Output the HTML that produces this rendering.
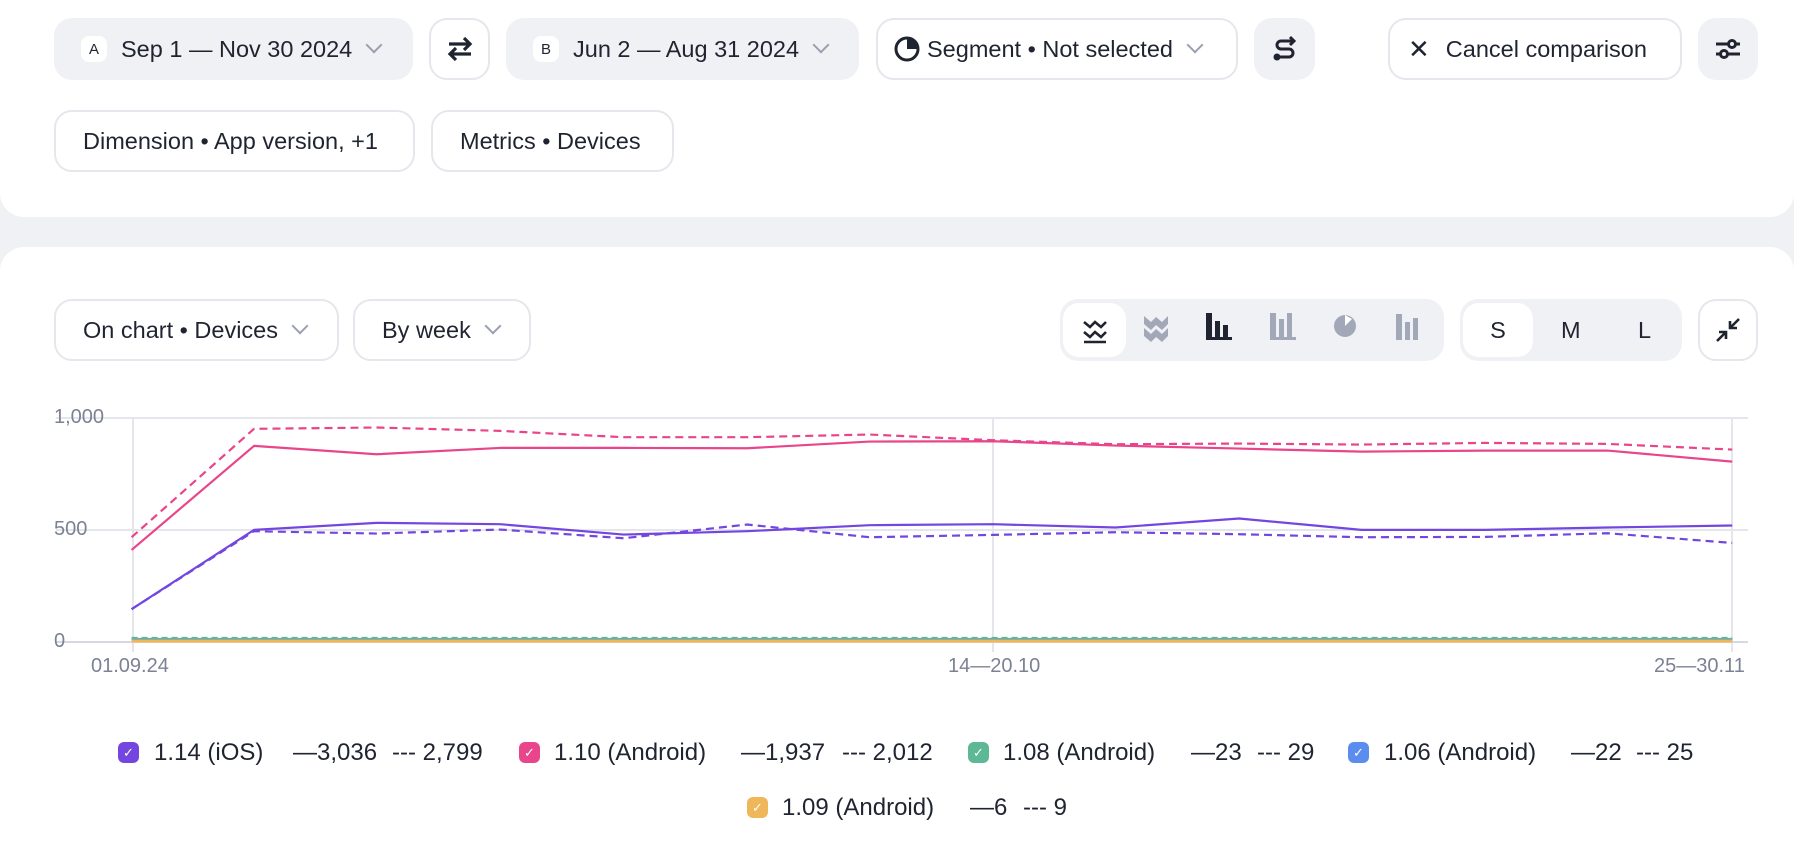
<!DOCTYPE html>
<html><head><meta charset="utf-8"><style>
*{box-sizing:border-box;margin:0;padding:0}
body{width:1794px;height:842px;background:#f0f1f5;font-family:"Liberation Sans",sans-serif;color:#1f2430;position:relative;overflow:hidden}
.panel{position:absolute;left:0;background:#fff}
.pill{position:absolute;height:62px;border-radius:18px;display:flex;align-items:center;font-size:23.5px;padding-left:27px;white-space:nowrap}
.g{background:#f0f1f5}
.w{background:#fff;border:2px solid #e6e7ec}
.chev{display:inline-block;width:12px;height:12px;border-right:2.5px solid #9aa0b0;border-bottom:2.5px solid #9aa0b0;transform:rotate(45deg);margin-left:16px;margin-top:-8px}
.badge{display:inline-flex;width:26px;height:26px;border-radius:8px;background:#fff;font-size:15px;align-items:center;justify-content:center;margin-right:14px}
.ic{justify-content:center;padding:0}
.lab{position:absolute;font-size:20px;color:#7c8294}
.t{position:absolute;font-size:24px;white-space:nowrap;line-height:1}
.cb{position:absolute;width:21px;height:21px;border-radius:6px;display:flex;align-items:center;justify-content:center;color:#fff;font-size:13px}
</style></head><body>
<div class="panel" style="top:0;width:1794px;height:217px;border-radius:0 0 24px 24px"></div>
<div class="panel" style="top:247px;width:1794px;height:595px;border-radius:24px 24px 0 0"></div>

<div class="pill g" style="left:54px;top:18px;width:359px"><span class="badge">A</span>Sep 1 — Nov 30 2024<span class="chev"></span></div>
<div class="pill w ic" style="left:429px;top:18px;width:61px"><svg width="28" height="26" viewBox="0 0 28 26" fill="none" stroke="#1f2430" stroke-width="3.2"><path d="M3 8H24M18 2L24 8L18 14"/><path d="M25 18H4M10 12L4 18L10 24"/></svg></div>
<div class="pill g" style="left:506px;top:18px;width:353px"><span class="badge">B</span>Jun 2 — Aug 31 2024<span class="chev"></span></div>
<div class="pill w" style="left:876px;top:18px;width:362px;padding-left:15px"><svg width="28" height="28" viewBox="0 0 28 28" style="margin-right:6px"><circle cx="14" cy="14" r="11" fill="none" stroke="#1f2430" stroke-width="3"/><path d="M14 3 A11 11 0 0 1 25 14 L14 14Z" fill="#1f2430"/></svg>Segment • Not selected<span class="chev"></span></div>
<div class="pill g ic" style="left:1254px;top:18px;width:61px"><svg width="24" height="28" viewBox="0 0 24 28" fill="none" stroke="#1f2430" stroke-width="3"><path d="M20 6H8a4 4 0 0 0 0 8h8a4 4 0 0 1 0 8H4"/><path d="M17 2l4 4-4 4" /><circle cx="4" cy="22" r="2" fill="#1f2430"/></svg></div>
<div class="pill w" style="left:1388px;top:18px;width:294px;padding-left:18px"><span style="font-size:26px;margin-right:16px">✕</span>Cancel comparison</div>
<div class="pill g ic" style="left:1698px;top:18px;width:60px"><svg width="28" height="26" viewBox="0 0 28 26" fill="none" stroke="#1f2430" stroke-width="3"><path d="M2 8H26M2 18H26"/><circle cx="18" cy="8" r="3.5" fill="#f0f1f5"/><circle cx="10" cy="18" r="3.5" fill="#f0f1f5"/></svg></div>

<div class="pill w" style="left:54px;top:110px;width:361px">Dimension • App version, +1</div>
<div class="pill w" style="left:431px;top:110px;width:243px">Metrics • Devices</div>

<div class="pill w" style="left:54px;top:299px;width:285px">On chart • Devices<span class="chev"></span></div>
<div class="pill w" style="left:353px;top:299px;width:178px">By week<span class="chev"></span></div>

<div class="pill g" style="left:1060px;top:299px;width:384px;padding:0"></div>
<div class="pill" style="left:1063px;top:303px;width:63px;height:54px;background:#fff;border-radius:16px;padding:0;justify-content:center"><svg width="26" height="28" viewBox="0 0 26 28" fill="none" stroke="#1f2430" stroke-width="2.6"><path d="M2 6l6 5 5-5 6 5 5-5M2 16l6 5 5-5 6 5 5-5M2 26H24"/></svg></div>
<svg style="position:absolute;left:1143px;top:314px" width="26" height="28" viewBox="0 0 26 28" fill="#a3a8b8"><path d="M1 2l7 6 5-5 6 5 6-6v8l-6 6-6-5-5 5-7-6z"/><path d="M1 14l7 6 5-5 6 5 6-6v8l-6 6-6-5-5 5-7-6z"/></svg>
<div style="position:absolute;left:1206px;top:312px;width:26px;height:28px;display:flex;align-items:flex-end;gap:3px;border-bottom:3px solid #1f2430"><i style="width:6px;height:24px;background:#1f2430"></i><i style="width:5px;height:16px;background:#1f2430"></i><i style="width:5px;height:12px;background:#1f2430"></i></div>
<div style="position:absolute;left:1270px;top:312px;width:26px;height:28px;display:flex;align-items:flex-end;gap:3px;border-bottom:3px solid #a3a8b8"><i style="width:6px;height:24px;background:#a3a8b8"></i><i style="width:5px;height:18px;background:#a3a8b8"></i><i style="width:5px;height:24px;background:#a3a8b8"></i></div>
<svg style="position:absolute;left:1332px;top:313px" width="26" height="26"><circle cx="13" cy="13" r="11" fill="#a3a8b8"/><path d="M13 2 L13 13 L20 6Z" fill="#fff"/></svg>
<div style="position:absolute;left:1396px;top:313px;width:26px;height:27px;display:flex;align-items:flex-end;gap:3px"><i style="width:6px;height:26px;background:#a3a8b8"></i><i style="width:5px;height:18px;background:#a3a8b8"></i><i style="width:5px;height:22px;background:#a3a8b8"></i></div>

<div class="pill g" style="left:1460px;top:299px;width:222px;padding:0"></div>
<div class="pill" style="left:1463px;top:303px;width:70px;height:54px;background:#fff;border-radius:16px;padding:0;justify-content:center">S</div>
<div style="position:absolute;left:1561px;top:317px;font-size:23.5px">M</div>
<div style="position:absolute;left:1638px;top:317px;font-size:23.5px">L</div>
<div class="pill w ic" style="left:1698px;top:299px;width:60px"><svg width="26" height="26" viewBox="0 0 26 26" fill="none" stroke="#1f2430" stroke-width="2.6"><path d="M24 2L15 11M15 4V11H22"/><path d="M2 24L11 15M4 15H11V22"/></svg></div>

<svg style="position:absolute;left:0;top:0" width="1794" height="842">
<g stroke="#e4e6ec" stroke-width="2">
<line x1="56" y1="418" x2="1748" y2="418"/>
<line x1="56" y1="530" x2="1748" y2="530"/>
<line x1="133" y1="418" x2="133" y2="652"/>
<line x1="993" y1="418" x2="993" y2="652"/>
<line x1="1732" y1="418" x2="1732" y2="652"/>
</g>
<line x1="56" y1="642" x2="1748" y2="642" stroke="#d6d9e2" stroke-width="2"/>
</svg>
<div class="lab" style="left:54px;top:406px">1,000</div>
<div class="lab" style="left:54px;top:518px">500</div>
<div class="lab" style="left:54px;top:630px">0</div>
<div class="lab" style="left:91px;top:655px">01.09.24</div>
<div class="lab" style="left:948px;top:655px">14—20.10</div>
<div class="lab" style="left:1654px;top:655px">25—30.11</div>

<svg style="position:absolute;left:0;top:380px" width="1794" height="462" viewBox="0 0 1568 1381" preserveAspectRatio="none" fill="none" stroke-linejoin="round">
<polyline vector-effect="non-scaling-stroke" stroke="#5cb895" stroke-width="2" points="115,774 1514,774"/>
<polyline vector-effect="non-scaling-stroke" stroke="#5cb895" stroke-width="2" stroke-dasharray="6 4" points="115,771 1514,771"/>
<polyline vector-effect="non-scaling-stroke" stroke="#5b8def" stroke-width="2" points="115,777 1514,777"/>
<polyline vector-effect="non-scaling-stroke" stroke="#f0b75a" stroke-width="3" points="115,780 1514,780"/>
<polyline vector-effect="non-scaling-stroke" stroke="#e8458b" stroke-width="2.2" points="115,508 222,197 329,222 437,203 545,203 653,204 760,184 868,183 975,196 1083,205 1190,214 1298,211 1405,211 1514,244"/>
<polyline vector-effect="non-scaling-stroke" stroke="#e8458b" stroke-width="2.2" stroke-dasharray="8 5" points="115,470 222,146 329,142 437,152 545,171 653,171 760,163 868,180 975,192 1083,190 1190,193 1298,188 1405,191 1514,208"/>
<polyline vector-effect="non-scaling-stroke" stroke="#7446e0" stroke-width="2.2" points="115,685 222,448 329,427 437,431 545,462 653,452 760,434 868,431 975,441 1083,414 1190,448 1298,448 1405,441 1514,435"/>
<polyline vector-effect="non-scaling-stroke" stroke="#7446e0" stroke-width="2.2" stroke-dasharray="8 5" points="115,685 222,452 329,459 437,447 545,473 653,432 760,470 868,463 975,455 1083,461 1190,470 1298,469 1405,458 1514,487"/>
</svg>

<!-- legend row 1 (center y 753) -->
<div class="cb" style="left:118px;top:742px;background:#7446e0">✓</div>
<div class="t" style="left:154px;top:741px">1.14 (iOS)</div>
<div class="t" style="left:293px;top:741px">—3,036</div>
<div class="t" style="left:392px;top:741px">--- 2,799</div>
<div class="cb" style="left:519px;top:742px;background:#e8458b">✓</div>
<div class="t" style="left:554px;top:741px">1.10 (Android)</div>
<div class="t" style="left:741px;top:741px">—1,937</div>
<div class="t" style="left:842px;top:741px">--- 2,012</div>
<div class="cb" style="left:968px;top:742px;background:#5cb895">✓</div>
<div class="t" style="left:1003px;top:741px">1.08 (Android)</div>
<div class="t" style="left:1191px;top:741px">—23</div>
<div class="t" style="left:1257px;top:741px">--- 29</div>
<div class="cb" style="left:1348px;top:742px;background:#5b8def">✓</div>
<div class="t" style="left:1384px;top:741px">1.06 (Android)</div>
<div class="t" style="left:1571px;top:741px">—22</div>
<div class="t" style="left:1636px;top:741px">--- 25</div>
<!-- legend row 2 (center y 808) -->
<div class="cb" style="left:747px;top:797px;background:#f0b75a">✓</div>
<div class="t" style="left:782px;top:796px">1.09 (Android)</div>
<div class="t" style="left:970px;top:796px">—6</div>
<div class="t" style="left:1023px;top:796px">--- 9</div>
</body></html>
